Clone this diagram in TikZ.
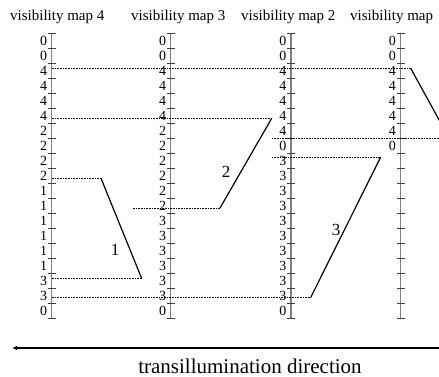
\documentclass[tikz,border=0pt]{standalone}
\usepackage{fontspec}
\setmainfont{Liberation Serif}
\usetikzlibrary{arrows.meta}

% one vertical visibility scale: name, x position, list of cell values
\newcommand\visaxis[3]{%
  \coordinate (#1top) at (#2,33.3);
  \coordinate (#1bot) at (#2,318.3);
  \draw[axisline] (#1top) -- (#1bot);
  \foreach \k in {0,...,19}
    \draw[tickmark] (#2-4,33.3+15*\k) -- (#2+4,33.3+15*\k);
  \foreach \lab [count=\k from 0] in {#3}
    \node[digit] (#1n\k) at (#2-4.5,41.3+15*\k) {\lab};
}

\begin{document}
\begin{tikzpicture}[x=1pt,y=-1pt,
  axisline/.style={draw=black!50, line width=1.5pt},
  tickmark/.style={draw=black!75, line width=0.8pt},
  digit/.style={anchor=east, inner sep=0pt, font=\fontsize{14}{15}\selectfont},
  maptitle/.style={anchor=base west, inner sep=0pt, font=\fontsize{15}{17}\selectfont},
  runlabel/.style={inner sep=0pt, font=\fontsize{17}{19}\selectfont},
  dotline/.style={line width=0.5pt, dash pattern=on 0.8pt off 0.8pt},
  runline/.style={line width=1.2pt},
  dirarrow/.style={line width=1.2pt, -{Latex[length=5pt,width=4.5pt]}}]

\useasboundingbox (0,0) rectangle (439,377);
\clip (0,0) rectangle (439,377);

% titles
\node[maptitle] (title4) at (10,21) {visibility map 4};
\node[maptitle] (title3) at (131,21) {visibility map 3};
\node[maptitle] (title2) at (241,21) {visibility map 2};
\node[maptitle] (title1) at (350,21) {visibility map};

% the four scales
\visaxis{m4}{51.7}{0,0,4,4,4,4,2,2,2,2,1,1,1,1,1,1,3,3,0}
\visaxis{m3}{170.7}{0,0,4,4,4,4,2,2,2,2,2,2,3,3,3,3,3,3,0}
\visaxis{m2}{291}{0,0,4,4,4,4,4,0,3,3,3,3,3,3,3,3,3,3,0}
\visaxis{m1}{400.5}{0,0,4,4,4,4,4,0}

% end points of the four runs
\coordinate (r1a) at (101,178.3);
\coordinate (r1b) at (141.7,278.5);
\coordinate (r2a) at (271.7,118.3);
\coordinate (r2b) at (220,208);
\coordinate (r3a) at (380.7,157);
\coordinate (r3b) at (310.7,297.5);
\coordinate (r4a) at (410.7,68.3);
\coordinate (r4b) at (449.2,138.3);

% start points of the dotted guides
\coordinate (g1) at (51.7,68.3);
\coordinate (g2) at (51.7,118.3);
\coordinate (g3) at (51.7,178.3);
\coordinate (g4) at (132.7,208);
\coordinate (g5) at (272,138.3);
\coordinate (g6) at (272,157);
\coordinate (g7) at (51.7,278.5);
\coordinate (g8) at (51.7,297.5);

% dotted guides
\draw[dotline] (g1) -- (r4a);
\draw[dotline] (g2) -- (r2a);
\draw[dotline] (g3) -- (r1a);
\draw[dotline] (g4) -- (r2b);
\draw[dotline] (g5) -- (r4b);
\draw[dotline] (g6) -- (r3a);
\draw[dotline] (g7) -- (r1b);
\draw[dotline] (g8) -- (r3b);

% runs
\draw[runline] (r1a) -- (r1b);
\draw[runline] (r2a) -- (r2b);
\draw[runline] (r3a) -- (r3b);
\draw[runline] (r4a) -- (r4b);

\node[runlabel] (lab1) at (115,250) {1};
\node[runlabel] (lab2) at (226,172) {2};
\node[runlabel] (lab3) at (336,230) {3};

% direction of transillumination
\coordinate (arrR) at (445,348);
\coordinate (arrL) at (12,348);
\draw[dirarrow] (arrR) -- (arrL);
\node[anchor=base, inner sep=0pt, font=\fontsize{21}{23}\selectfont] (dirtext) at (250,373) {transillumination direction};

\end{tikzpicture}
\end{document}
